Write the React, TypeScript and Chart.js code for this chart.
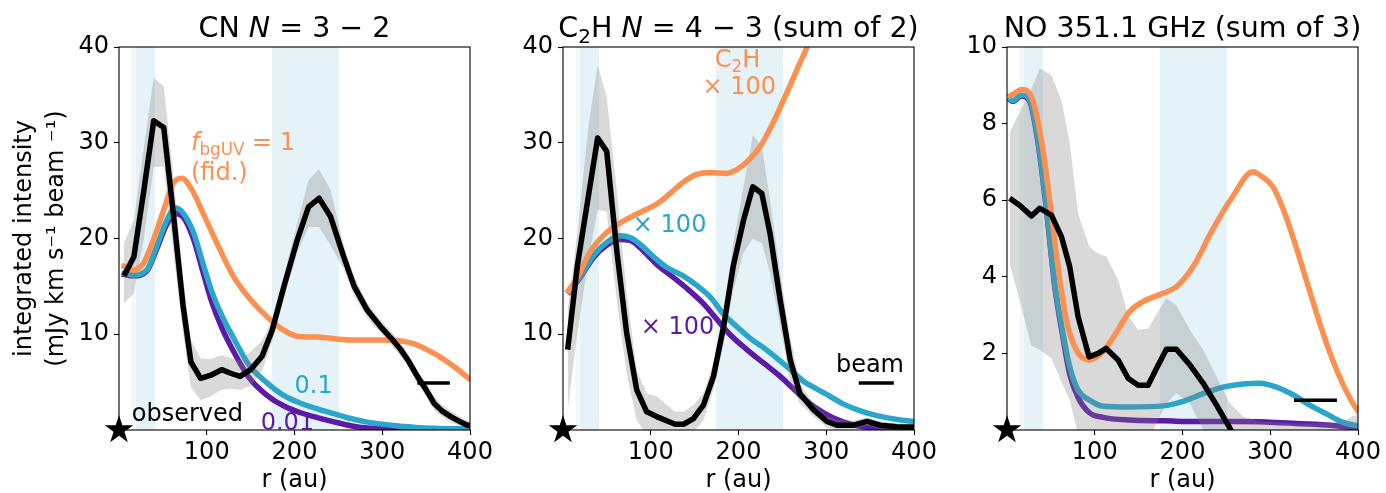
import React, { useEffect, useRef } from 'react';
import { Chart, registerables } from 'chart.js';

Chart.register(...registerables);

// ---------------- data ----------------
const xTickValues = [100, 200, 300, 400];
const yTicksIntensity = [10, 20, 30, 40];
const yTicksNO = [2, 4, 6, 8, 10];

// gap / ring regions (au)
const gapBandsLight = [[14, 19]];
const gapBands = [[19, 41], [174, 251]];

// ---- CN N=3-2 ----
const cnObsR = [5.7, 17, 28.3, 39.6, 51, 62, 73, 82, 93, 104, 117, 128, 138, 150, 163, 174.5, 188, 203, 216, 228, 241, 256, 268, 283, 298, 310, 321, 330, 340, 350, 359, 368, 378, 388, 397, 405];
const cnObs = [16.1, 18.1, 25.0, 32.3, 31.6, 22.5, 13.0, 7.1, 5.4, 5.7, 6.3, 5.9, 5.6, 6.3, 7.7, 10.4, 15.0, 19.8, 23.3, 24.2, 22.3, 18.1, 15.0, 12.5, 10.8, 9.6, 8.4, 7.2, 5.6, 4.2, 2.8, 2.0, 1.4, 0.9, 0.5, 0.3];
const cnObsHi = [19.5, 21.9, 29.5, 36.8, 35.9, 26.5, 16.0, 9.4, 7.5, 7.4, 7.8, 7.5, 7.3, 8.2, 9.3, 11.6, 16.2, 21.5, 26.1, 27.2, 25.1, 19.4, 16.0, 13.3, 11.5, 10.3, 9.1, 7.9, 6.3, 4.9, 3.5, 2.6, 2.0, 1.4, 1.0, 0.8];
const cnObsLo = [13.2, 14.3, 20.0, 27.5, 27.5, 18.5, 10.0, 4.5, 3.1, 3.5, 4.2, 4.3, 4.2, 4.6, 6.2, 9.2, 13.8, 18.5, 21.2, 21.2, 19.3, 16.8, 14.0, 11.7, 10.1, 8.9, 7.7, 6.5, 4.9, 3.5, 2.1, 1.4, 0.8, 0.4, 0.0, -0.2];
const cnFidR = [3, 16.4, 27.8, 39, 51, 62, 71.6, 83, 96, 111.6, 130.7, 150, 169, 188, 203, 226, 264, 302, 332.6, 359, 382, 401];
const cnFid = [17.2, 16.7, 17.4, 19.8, 23.0, 25.8, 26.3, 25.1, 22.6, 19.5, 16.0, 13.6, 11.8, 10.4, 9.8, 9.7, 9.4, 9.4, 9.1, 8.0, 6.6, 5.2];
const cnModR = [3, 16.4, 31.6, 43, 54.5, 64, 73.5, 85, 96, 106, 118, 130, 148, 169, 188, 207, 226, 245, 264, 283, 321, 359, 401];
const cnBg01 = [16.4, 16.2, 16.7, 19.2, 21.9, 23.2, 22.6, 20.6, 17.3, 14.4, 11.8, 9.7, 6.8, 4.9, 3.6, 2.8, 2.2, 1.7, 1.2, 0.82, 0.4, 0.18, 0.1];
const cnBg001 = [16.3, 16.1, 16.6, 18.9, 21.5, 22.6, 22.2, 19.9, 16.4, 13.3, 10.5, 8.3, 5.5, 3.6, 2.5, 1.8, 1.3, 0.85, 0.45, 0.2, 0.07, 0.04, 0.03];
const cnBeam = [340, 377];
const cnBeamLevel = 4.9;

// ---- C2H N=4-3 ----
const c2hObsR = [5.3, 16.3, 28.9, 39.5, 49.8, 61.2, 72.6, 84, 95.4, 106.8, 127.8, 137.3, 148.7, 160, 171.5, 183, 194, 205.7, 216.3, 226.6, 236, 247.5, 259, 270, 285.6, 300.8, 312, 331, 346.4, 361.6, 380.6, 401.5];
const c2hObs = [8.4, 17.1, 24.4, 30.5, 29.1, 18.8, 10.1, 4.2, 1.9, 1.4, 0.6, 0.6, 1.2, 2.6, 5.6, 10.8, 17.1, 21.9, 25.4, 24.7, 20.5, 13.6, 7.3, 3.8, 2.1, 0.9, 0.5, 0.5, 0.9, 0.5, 0.35, 0.3];
const c2hObsHi = [12.5, 20.5, 31.7, 38.1, 34.8, 25.1, 14.3, 6.3, 3.8, 3.5, 1.9, 1.9, 2.6, 3.8, 7.0, 12.5, 19.5, 25.4, 30.8, 29.6, 24.0, 16.4, 9.7, 4.8, 2.8, 1.5, 1.1, 1.0, 1.3, 0.9, 0.7, 0.6];
const c2hObsLo = [2.0, 10.1, 17.8, 23.0, 22.8, 13.6, 5.9, 1.0, -0.5, -0.6, -0.7, -0.7, -0.2, 1.0, 4.2, 9.1, 14.6, 18.5, 20.0, 19.5, 16.4, 10.8, 4.9, 2.8, 1.4, 0.3, -0.1, 0.0, 0.5, 0.1, 0.0, 0.0];
const c2hFidR = [4.2, 15.6, 30.8, 46, 61.2, 76.4, 91.6, 106.8, 122, 137.3, 152.5, 167.7, 186.7, 198, 209.5, 224.7, 240, 255, 268.4, 278, 289];
const c2hFid = [14.3, 15.8, 18.6, 20.3, 21.4, 22.2, 22.9, 23.6, 24.7, 25.9, 26.7, 26.9, 26.8, 27.2, 28.0, 29.6, 32.2, 35.2, 38.0, 40.0, 42.8];
const c2hBg01R = [5.3, 19.4, 34.6, 49.8, 65, 76.4, 87.8, 103, 118, 137, 152.5, 167.7, 183, 198, 213, 228.5, 243.7, 259, 274, 289, 304.6, 319.8, 338.8, 357.8, 380.6, 401.5];
const c2hBg01 = [14.3, 16.0, 18.2, 19.6, 20.3, 20.1, 19.4, 18.1, 17.0, 16.1, 15.1, 13.9, 12.1, 10.8, 9.6, 8.6, 7.5, 6.3, 5.1, 4.3, 3.5, 2.7, 2.0, 1.5, 1.1, 0.88];
const c2hBg001R = [5.3, 19.4, 34.6, 49.8, 65, 76.4, 91.6, 106.8, 122, 141, 160, 175, 190, 209.5, 228.5, 247.5, 262.7, 278, 297, 316, 335, 357.8, 401.5];
const c2hBg001 = [14.2, 15.9, 18.0, 19.3, 19.9, 19.8, 18.7, 17.3, 16.2, 14.8, 13.2, 11.6, 10.0, 8.4, 7.0, 5.6, 4.3, 3.0, 1.8, 0.95, 0.45, 0.17, 0.03];
const c2hBeam = [337, 377];
const c2hBeamLevel = 4.9;

// ---- NO 351.1 GHz ----
const noObsR = [3, 14.4, 27.8, 37.3, 50.6, 62, 71.5, 81, 93.5, 103.8, 113, 126.6, 138, 149.4, 160.8, 171, 181.7, 193, 208.4, 223.6, 238.8, 254, 269, 288, 310, 330, 355, 383, 394.7, 402];
const noObs = [6.05, 5.87, 5.59, 5.79, 5.61, 5.05, 4.26, 2.96, 1.91, 2.0, 2.13, 1.83, 1.35, 1.17, 1.17, 1.64, 2.11, 2.11, 1.7, 1.22, 0.65, 0.05, -0.7, -1.2, -1.0, -0.9, -0.8, -0.9, -0.8, -0.7];
const noObsHi = [7.75, 8.3, 8.9, 9.44, 9.27, 8.6, 7.5, 5.66, 4.79, 4.61, 4.53, 3.92, 3.0, 2.61, 2.65, 3.05, 3.44, 3.26, 2.61, 2.09, 1.39, 0.7, 0.35, 0.22, 0.2, 0.17, 0.18, 0.22, 0.37, 0.4];
const noObsLo = [4.35, 3.39, 2.2, 2.1, 1.87, 1.26, 0.78, -0.1, -0.8, -0.7, -0.5, -0.3, -0.4, -0.4, -0.3, 0.2, 0.7, 0.96, 0.7, 0.0, -0.5, -1.0, -1.6, -2, -2, -2, -2, -2, -2, -2];
const noFidR = [1.1, 8.7, 16.3, 27.8, 39.2, 48.7, 58.2, 67.7, 79, 93.5, 109.5, 124.7, 140, 155, 178, 193, 212, 234, 257, 280, 291, 303, 318, 333, 348, 364, 379, 394, 402];
const noFid = [8.7, 8.79, 8.89, 8.7, 7.57, 6.0, 4.26, 2.87, 2.09, 1.83, 2.05, 2.55, 3.1, 3.35, 3.57, 3.74, 4.26, 5.22, 6.09, 6.74, 6.61, 6.35, 5.57, 4.52, 3.4, 2.27, 1.39, 0.7, 0.44];
const noBg01R = [1.1, 6.8, 16.3, 25.9, 35.4, 44.9, 54.4, 63.9, 71.5, 81, 94, 109.5, 140, 178, 200.8, 223.6, 246.4, 269, 288, 307, 326, 345, 364, 383, 401];
const noBg01 = [8.68, 8.6, 8.75, 8.62, 7.57, 5.83, 3.83, 2.52, 1.65, 1.04, 0.78, 0.62, 0.6, 0.63, 0.75, 0.95, 1.12, 1.2, 1.22, 1.12, 0.92, 0.65, 0.42, 0.2, 0.1];
const noBg001R = [1.1, 6.8, 16.3, 25.9, 35.4, 44.9, 54.4, 63.9, 71.5, 81, 94, 109.5, 140, 180, 216, 260, 295, 330, 371, 401];
const noBg001 = [8.66, 8.58, 8.72, 8.58, 7.5, 5.75, 3.75, 2.4, 1.45, 0.85, 0.45, 0.33, 0.26, 0.24, 0.22, 0.22, 0.21, 0.17, 0.12, 0.04];
const noBeam = [327, 376];
const noBeamLevel = 0.78;

// ---------------- styles / layout ----------------
const FONT = '"DejaVu Sans", "Liberation Sans", sans-serif';
const ORANGE = '#fc9050';
const CYAN = '#29a6c9';
const PURPLE = '#5c1ba6';
const BLACK = '#000000';
const BAND = 'rgba(173,216,230,0.32)';
const BAND_LIGHT = 'rgba(173,216,230,0.16)';
const GREY = 'rgba(128,128,128,0.3)';

const CANVAS_W = 500;
const CANVAS_H = 493;
const Y_AXIS_W = 119;
const X_AXIS_H = 63;
const PLOT_TOP = 47;
const RIGHT_PAD = 30;
const canvasLefts = [0, 444, 888];
const TICK_SIZE = 24;
const LABEL_SIZE = 24;
const NOTE_SIZE = 24;
const TITLE_SIZE = 28.5;
const TITLE_BASELINE = 37;

type Seg = { t: string; it?: boolean; sub?: boolean };
type Note = { segs: Seg[]; x: number; y: number; color: string };

interface PanelSpec {
  title: Seg[];
  yMax: number;
  yTicks: number[];
  yTitle: string[] | null;
  obsR: number[]; obs: number[]; obsHi: number[]; obsLo: number[];
  fidR: number[]; fid: number[];
  m01R: number[]; m01: number[];
  m001R: number[]; m001: number[];
  beam: number[]; beamLevel: number;
  notes: Note[];
}

const PANELS: PanelSpec[] = [
  {
    title: [{ t: 'CN ' }, { t: 'N', it: true }, { t: ' = 3 \u2212 2' }],
    yMax: 40, yTicks: yTicksIntensity,
    yTitle: ['integrated intensity', '(mJy km s\u207B\u00B9 beam \u207B\u00B9)'],
    obsR: cnObsR, obs: cnObs, obsHi: cnObsHi, obsLo: cnObsLo,
    fidR: cnFidR, fid: cnFid, m01R: cnModR, m01: cnBg01, m001R: cnModR, m001: cnBg001,
    beam: cnBeam, beamLevel: cnBeamLevel,
    notes: [
      { segs: [{ t: 'f', it: true }, { t: 'bgUV', sub: true }, { t: ' = 1' }], x: 82, y: 29.2, color: ORANGE },
      { segs: [{ t: '(fid.)' }], x: 82, y: 26.1, color: ORANGE },
      { segs: [{ t: '0.1' }], x: 200, y: 3.86, color: CYAN },
      { segs: [{ t: '0.01' }], x: 161.5, y: 0.05, color: PURPLE },
      { segs: [{ t: 'observed' }], x: 14.5, y: 0.97, color: BLACK },
    ],
  },
  {
    title: [{ t: 'C' }, { t: '2', sub: true }, { t: 'H ' }, { t: 'N', it: true }, { t: ' = 4 \u2212 3 (sum of 2)' }],
    yMax: 40, yTicks: yTicksIntensity, yTitle: null,
    obsR: c2hObsR, obs: c2hObs, obsHi: c2hObsHi, obsLo: c2hObsLo,
    fidR: c2hFidR, fid: c2hFid, m01R: c2hBg01R, m01: c2hBg01, m001R: c2hBg001R, m001: c2hBg001,
    beam: c2hBeam, beamLevel: c2hBeamLevel,
    notes: [
      { segs: [{ t: 'C' }, { t: '2', sub: true }, { t: 'H' }], x: 173, y: 37.9, color: ORANGE },
      { segs: [{ t: '\u00D7 100' }], x: 159, y: 35.06, color: ORANGE },
      { segs: [{ t: '\u00D7 100' }], x: 79.6, y: 20.7, color: CYAN },
      { segs: [{ t: '\u00D7 100' }], x: 88.7, y: 10.0, color: PURPLE },
      { segs: [{ t: 'beam' }], x: 311, y: 6.05, color: BLACK },
    ],
  },
  {
    title: [{ t: 'NO 351.1 GHz (sum of 3)' }],
    yMax: 10, yTicks: yTicksNO, yTitle: null,
    obsR: noObsR, obs: noObs, obsHi: noObsHi, obsLo: noObsLo,
    fidR: noFidR, fid: noFid, m01R: noBg01R, m01: noBg01, m001R: noBg001R, m001: noBg001,
    beam: noBeam, beamLevel: noBeamLevel,
    notes: [],
  },
];

// ---------------- helpers ----------------
const pts = (xs: number[], ys: number[]) => xs.map((x, i) => ({ x, y: ys[i] }));

function drawRich(ctx: CanvasRenderingContext2D, segs: Seg[], x: number, y: number, size: number, color: string, align: 'left' | 'center') {
  const fontFor = (s: Seg) => `${s.it ? 'italic ' : ''}${s.sub ? size * 0.7 : size}px ${FONT}`;
  let total = 0;
  for (const s of segs) { ctx.font = fontFor(s); total += ctx.measureText(s.t).width; }
  let cx = align === 'center' ? x - total / 2 : x;
  ctx.fillStyle = color;
  ctx.textAlign = 'left';
  ctx.textBaseline = 'alphabetic';
  for (const s of segs) {
    ctx.font = fontFor(s);
    ctx.fillText(s.t, cx, y + (s.sub ? size * 0.2 : 0));
    cx += ctx.measureText(s.t).width;
  }
}

function makeStar(): HTMLCanvasElement {
  const c = document.createElement('canvas');
  c.width = 32; c.height = 32;
  const g = c.getContext('2d')!;
  const R = 15, r = R * 0.382;
  g.beginPath();
  for (let i = 0; i < 10; i++) {
    const ang = -Math.PI / 2 + (i * Math.PI) / 5;
    const rad = i % 2 === 0 ? R : r;
    const px = 16 + rad * Math.cos(ang), py = 16 + rad * Math.sin(ang);
    if (i === 0) g.moveTo(px, py); else g.lineTo(px, py);
  }
  g.closePath();
  g.fillStyle = '#000';
  g.fill();
  return c;
}

function makeChart(canvas: HTMLCanvasElement, p: PanelSpec, star: HTMLCanvasElement) {
  const modelLine = (data: any[], color: string, order: number) => ({
    data, borderColor: color, backgroundColor: color, borderWidth: 5.5, pointRadius: 0, pointHoverRadius: 0,
    fill: false, order, borderJoinStyle: 'round', cubicInterpolationMode: 'monotone',
  });
  const datasets: any[] = [];
  for (const [a, b] of gapBandsLight) {
    datasets.push({ data: [{ x: a, y: p.yMax * 2 }, { x: b, y: p.yMax * 2 }], fill: 'start', backgroundColor: BAND_LIGHT, borderColor: 'rgba(0,0,0,0)', borderWidth: 0, pointRadius: 0, order: 20 });
  }
  for (const [a, b] of gapBands) {
    datasets.push({ data: [{ x: a, y: p.yMax * 2 }, { x: b, y: p.yMax * 2 }], fill: 'start', backgroundColor: BAND, borderColor: 'rgba(0,0,0,0)', borderWidth: 0, pointRadius: 0, order: 19 });
  }
  datasets.push(modelLine(pts(p.m001R, p.m001), PURPLE, 10));
  datasets.push(modelLine(pts(p.m01R, p.m01), CYAN, 9));
  // uncertainty band of observation
  datasets.push({ data: pts(p.obsR, p.obsHi), fill: '+1', backgroundColor: GREY, borderColor: 'rgba(0,0,0,0)', borderWidth: 0, pointRadius: 0, order: 8, tension: 0 });
  datasets.push({ data: pts(p.obsR, p.obsLo), fill: false, borderColor: 'rgba(0,0,0,0)', borderWidth: 0, pointRadius: 0, order: 8, tension: 0 });
  datasets.push(modelLine(pts(p.fidR, p.fid), ORANGE, 6));
  datasets.push({ data: pts(p.obsR, p.obs), borderColor: BLACK, borderWidth: 5.5, pointRadius: 0, fill: false, order: 4, tension: 0, borderJoinStyle: 'round' });
  datasets.push({ data: p.beam.map((x) => ({ x, y: p.beamLevel })), borderColor: BLACK, borderWidth: 3.5, pointRadius: 0, fill: false, order: 3 });
  datasets.push({ data: [{ x: 0, y: 0 }], showLine: false, pointStyle: star, pointRadius: 15, order: 1, clip: false });

  const decor = {
    id: 'decor',
    afterDatasetsDraw(chart: any) {
      const { ctx, chartArea: a } = chart;
      const sx = chart.scales.x, sy = chart.scales.y;
      ctx.save();
      ctx.strokeStyle = '#000';
      ctx.lineWidth = 1.1;
      ctx.strokeRect(a.left, a.top, a.right - a.left, a.bottom - a.top);
      for (const n of p.notes) {
        drawRich(ctx, n.segs, sx.getPixelForValue(n.x), sy.getPixelForValue(n.y), NOTE_SIZE, n.color, 'left');
      }
      drawRich(ctx, p.title, (a.left + a.right) / 2, TITLE_BASELINE, TITLE_SIZE, '#000', 'center');
      ctx.restore();
    },
  };

  const gridOpts = { display: true, drawOnChartArea: false, drawTicks: true, tickLength: 5, tickWidth: 1.1, tickColor: '#000', color: '#000' };

  return new Chart(canvas, {
    type: 'line',
    data: { datasets },
    plugins: [decor],
    options: {
      responsive: false,
      animation: false,
      events: [],
      layout: { padding: { left: 0, right: RIGHT_PAD, top: PLOT_TOP, bottom: 0 } },
      plugins: { legend: { display: false }, tooltip: { enabled: false }, title: { display: false } },
      scales: {
        x: {
          type: 'linear', min: 0, max: 400,
          afterBuildTicks: (s: any) => { s.ticks = xTickValues.map((v) => ({ value: v })); },
          afterFit: (s: any) => { s.height = X_AXIS_H; s.paddingLeft = 0; s.paddingRight = 0; },
          ticks: { color: '#000', font: { family: FONT, size: TICK_SIZE }, padding: 3, maxRotation: 0, autoSkip: false },
          grid: gridOpts,
          border: { display: false },
          title: { display: true, text: 'r (au)', color: '#000', font: { family: FONT, size: LABEL_SIZE, lineHeight: 1.0 }, padding: { top: 0, bottom: 0 } },
        },
        y: {
          type: 'linear', min: 0, max: p.yMax,
          afterBuildTicks: (s: any) => { s.ticks = p.yTicks.map((v) => ({ value: v })); },
          afterFit: (s: any) => { s.width = Y_AXIS_W; s.paddingTop = 0; s.paddingBottom = 0; },
          ticks: { color: '#000', font: { family: FONT, size: TICK_SIZE }, padding: 5, autoSkip: false },
          grid: gridOpts,
          border: { display: false },
          title: p.yTitle
            ? { display: true, text: p.yTitle, color: '#000', font: { family: FONT, size: LABEL_SIZE, lineHeight: 1.33 }, padding: { top: 9, bottom: 0 } }
            : { display: false },
        },
      },
    } as any,
  });
}

export default function App() {
  const r0 = useRef<HTMLCanvasElement>(null);
  const r1 = useRef<HTMLCanvasElement>(null);
  const r2 = useRef<HTMLCanvasElement>(null);
  const refs = [r0, r1, r2];

  useEffect(() => {
    const star = makeStar();
    const charts = PANELS.map((p, i) => makeChart(refs[i].current as HTMLCanvasElement, p, star));
    return () => charts.forEach((c) => c.destroy());
  }, []);

  return (
    <div style={{ position: 'absolute', left: 0, top: 0, width: 1386, height: 493, overflow: 'hidden', background: '#fff' }}>
      {PANELS.map((_, i) => (
        <canvas
          key={i}
          ref={refs[i]}
          width={CANVAS_W}
          height={CANVAS_H}
          style={{ position: 'absolute', left: canvasLefts[i], top: 0, width: CANVAS_W, height: CANVAS_H }}
        />
      ))}
    </div>
  );
}
